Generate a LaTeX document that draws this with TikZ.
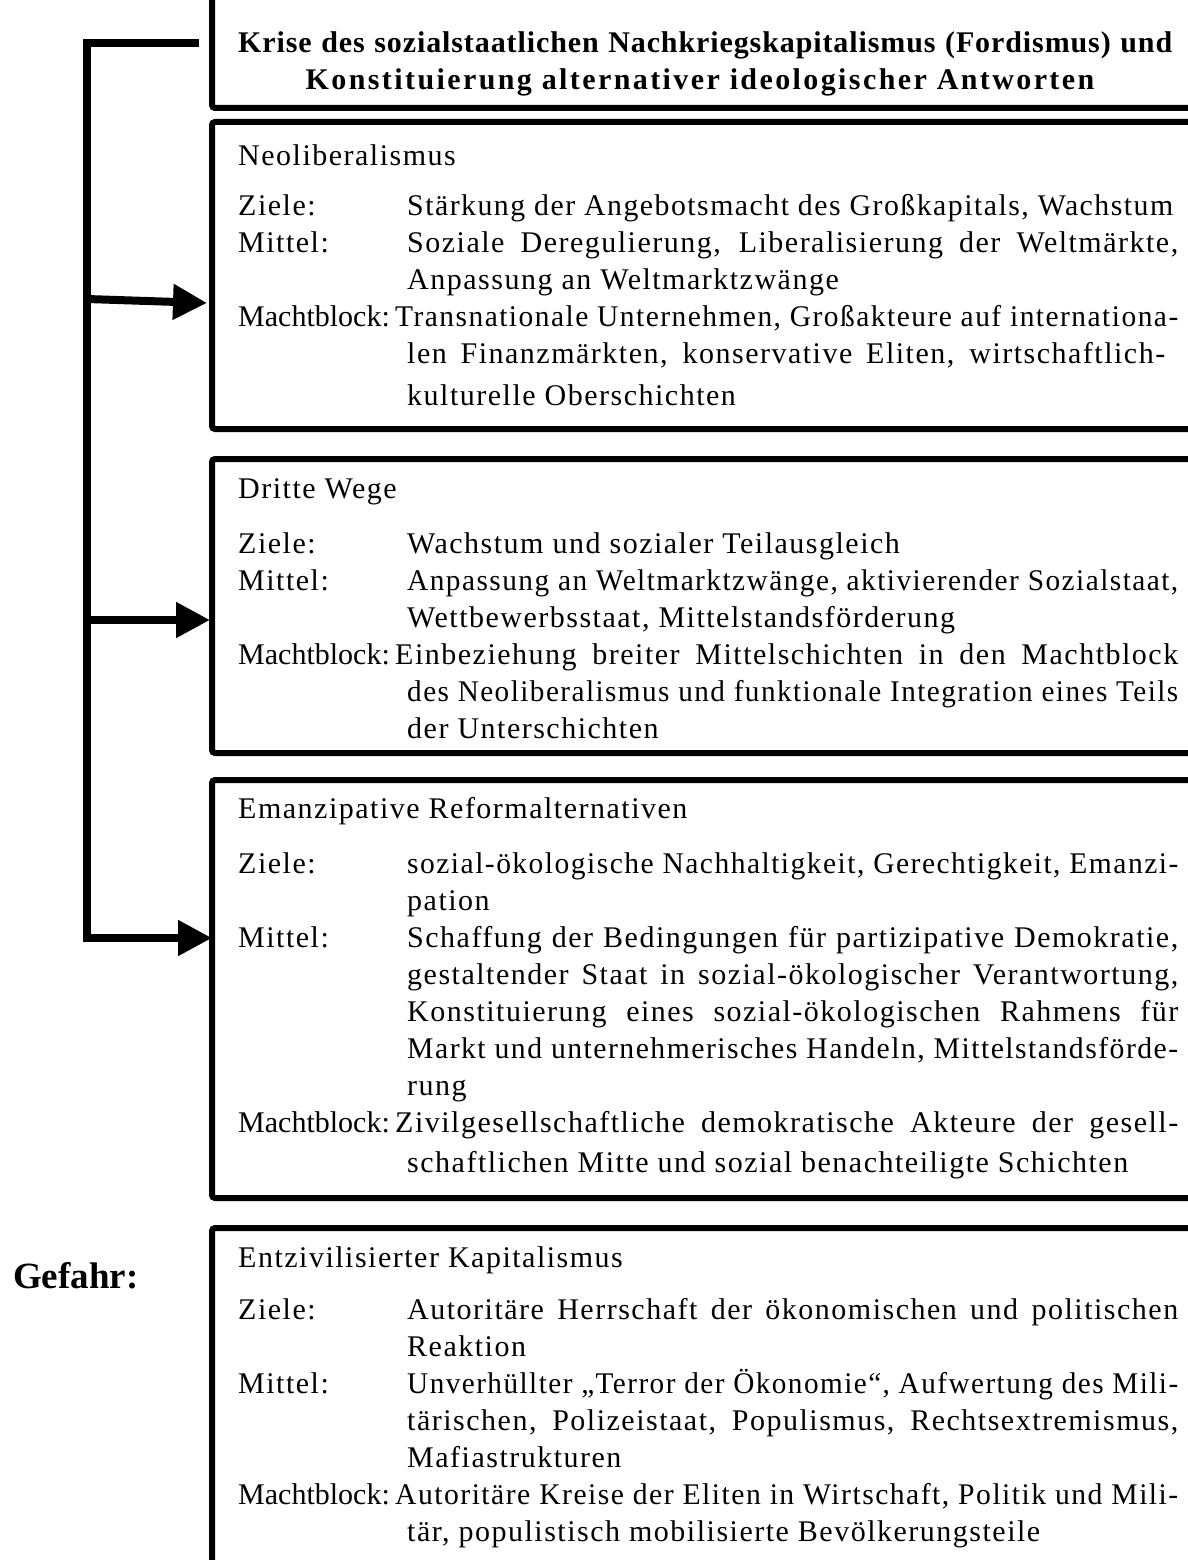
\documentclass[tikz,border=0pt]{standalone}
\usepackage{fontspec}
\usepackage{graphicx}
\setmainfont{Liberation Serif}[LetterSpace=5]
\usetikzlibrary{arrows.meta}
\newcommand\bodyfont{\fontsize{30}{37}\selectfont}
\newcommand\titlefont{\fontsize{30}{37}\selectfont\bfseries\addfontfeatures{LetterSpace=8}}
\newcommand\titlefonttight{\fontsize{30}{37}\selectfont\bfseries\addfontfeatures{LetterSpace=3}}
% justified line of a given width (pt); squeezed if it would run over
\newcommand\jl[2]{\setbox0\hbox{#2}%
  \ifdim\wd0>#1pt\relax\resizebox{#1pt}{\height}{\box0}%
  \else\makebox[#1pt][s]{#2}\fi}
% label for the power-block lines
\newcommand\mb{{\addfontfeatures{LetterSpace=0}Machtblock:}}

\tikzset{
  txt/.style={anchor=base west, inner sep=0pt, font=\bodyfont},
  boxline/.style={line width=6pt, rounded corners=3pt},
  brk/.style={line width=8pt},
  arr/.style={-{Triangle[length=34pt,width=34pt]}}
}

\begin{document}
\begin{tikzpicture}[x=1pt,y=-1pt]
\useasboundingbox (0,0) rectangle (1188,1560);

% frames, open towards the right edge
\draw[boxline] (212,-10) -- (212,108) -- (1200,108);
\draw[boxline] (1200,122) -- (212,122) -- (212,429) -- (1200,429);
\draw[boxline] (1200,459) -- (212,459) -- (212,753) -- (1200,753);
\draw[boxline] (1200,780) -- (212,780) -- (212,1198) -- (1200,1198);
\draw[boxline] (1200,1228) -- (212,1228) -- (212,1570);

% heading
\node[txt, font=\titlefonttight] (ti1) at (238,53)
  {\jl{934}{Krise des sozialstaatlichen Nachkriegskapitalismus (Fordismus) und}};
\node[anchor=base, inner sep=0pt, font=\titlefont] (ti2) at (700,90)
  {Konstituierung alternativer ideologischer Antworten};

% bracket with arrows
\coordinate (bT) at (199,43);
\coordinate (bC) at (87,43);
\coordinate (bB) at (87,938);
\coordinate (s2) at (87,299);
\coordinate (s3) at (87,620);
\coordinate (t2) at (207,303);
\coordinate (t3) at (210,620);
\coordinate (t4) at (212,938);
\draw[brk, arr] (bT) -- (bC) -- (bB) -- (t4);
\draw[brk, arr] (s2) -- (t2);
\draw[brk, arr] (s3) -- (t3);

% Neoliberalismus
\node[txt] (a0) at (238,165) {Neoliberalismus};
\node[txt] (a1l) at (238,215) {Ziele:};
\node[txt] (a1) at (407,215) {\jl{766}{Stärkung der Angebotsmacht des Großkapitals, Wachstum}};
\node[txt] (a2l) at (238,252) {Mittel:};
\node[txt] (a2) at (407,252) {\jl{771}{Soziale Deregulierung, Liberalisierung der Weltmärkte,}};
\node[txt] (a3) at (407,289) {Anpassung an Weltmarktzwänge};
\node[txt] (a4l) at (238,326) {\mb};
\node[txt] (a4) at (395,326) {\jl{783}{Transnationale Unternehmen, Großakteure auf internationa-}};
\node[txt] (a5) at (407,363) {\jl{758}{len Finanzmärkten, konservative Eliten, wirtschaftlich-}};
\node[txt] (a6) at (407,405) {kulturelle Oberschichten};

% Dritte Wege
\node[txt] (b0) at (238,498) {Dritte Wege};
\node[txt] (b1l) at (238,553) {Ziele:};
\node[txt] (b1) at (407,553) {Wachstum und sozialer Teilausgleich};
\node[txt] (b2l) at (238,590) {Mittel:};
\node[txt] (b2) at (407,590) {\jl{771}{Anpassung an Weltmarktzwänge, aktivierender Sozialstaat,}};
\node[txt] (b3) at (407,627) {Wettbewerbsstaat, Mittelstandsförderung};
\node[txt] (b4l) at (238,664) {\mb};
\node[txt] (b4) at (395,664) {\jl{783}{Einbeziehung breiter Mittelschichten in den Machtblock}};
\node[txt] (b5) at (407,701) {\jl{771}{des Neoliberalismus und funktionale Integration eines Teils}};
\node[txt] (b6) at (407,738) {der Unterschichten};

% Emanzipative Reformalternativen
\node[txt] (c0) at (238,818) {Emanzipative Reformalternativen};
\node[txt] (c1l) at (238,873) {Ziele:};
\node[txt] (c1) at (407,873) {\jl{771}{sozial-ökologische Nachhaltigkeit, Gerechtigkeit, Emanzi-}};
\node[txt] (c2) at (407,910) {pation};
\node[txt] (c3l) at (238,947) {Mittel:};
\node[txt] (c3) at (407,947) {\jl{771}{Schaffung der Bedingungen für partizipative Demokratie,}};
\node[txt] (c4) at (407,984) {\jl{771}{gestaltender Staat in sozial-ökologischer Verantwortung,}};
\node[txt] (c5) at (407,1021) {\jl{771}{Konstituierung eines sozial-ökologischen Rahmens für}};
\node[txt] (c6) at (407,1058) {\jl{771}{Markt und unternehmerisches Handeln, Mittelstandsförde-}};
\node[txt] (c7) at (407,1095) {rung};
\node[txt] (c8l) at (238,1132) {\mb};
\node[txt] (c8) at (395,1132) {\jl{783}{Zivilgesellschaftliche demokratische Akteure der gesell-}};
\node[txt] (c9) at (407,1172) {schaftlichen Mitte und sozial benachteiligte Schichten};

% Entzivilisierter Kapitalismus
\node[anchor=base west, inner sep=0pt, font=\fontsize{37}{40}\selectfont\bfseries\addfontfeatures{LetterSpace=0}] (gef) at (13,1288) {Gefahr:};
\node[txt] (d0) at (238,1267) {Entzivilisierter Kapitalismus};
\node[txt] (d1l) at (238,1319) {Ziele:};
\node[txt] (d1) at (407,1319) {\jl{771}{Autoritäre Herrschaft der ökonomischen und politischen}};
\node[txt] (d2) at (407,1356) {Reaktion};
\node[txt] (d3l) at (238,1393) {Mittel:};
\node[txt] (d3) at (407,1393) {\jl{771}{Unverhüllter „Terror der Ökonomie“, Aufwertung des Mili-}};
\node[txt] (d4) at (407,1430) {\jl{771}{tärischen, Polizeistaat, Populismus, Rechtsextremismus,}};
\node[txt] (d5) at (407,1467) {Mafiastrukturen};
\node[txt] (d6l) at (238,1504) {\mb};
\node[txt] (d6) at (395,1504) {\jl{783}{Autoritäre Kreise der Eliten in Wirtschaft, Politik und Mili-}};
\node[txt] (d7) at (407,1541) {tär, populistisch mobilisierte Bevölkerungsteile};
\end{tikzpicture}
\end{document}
